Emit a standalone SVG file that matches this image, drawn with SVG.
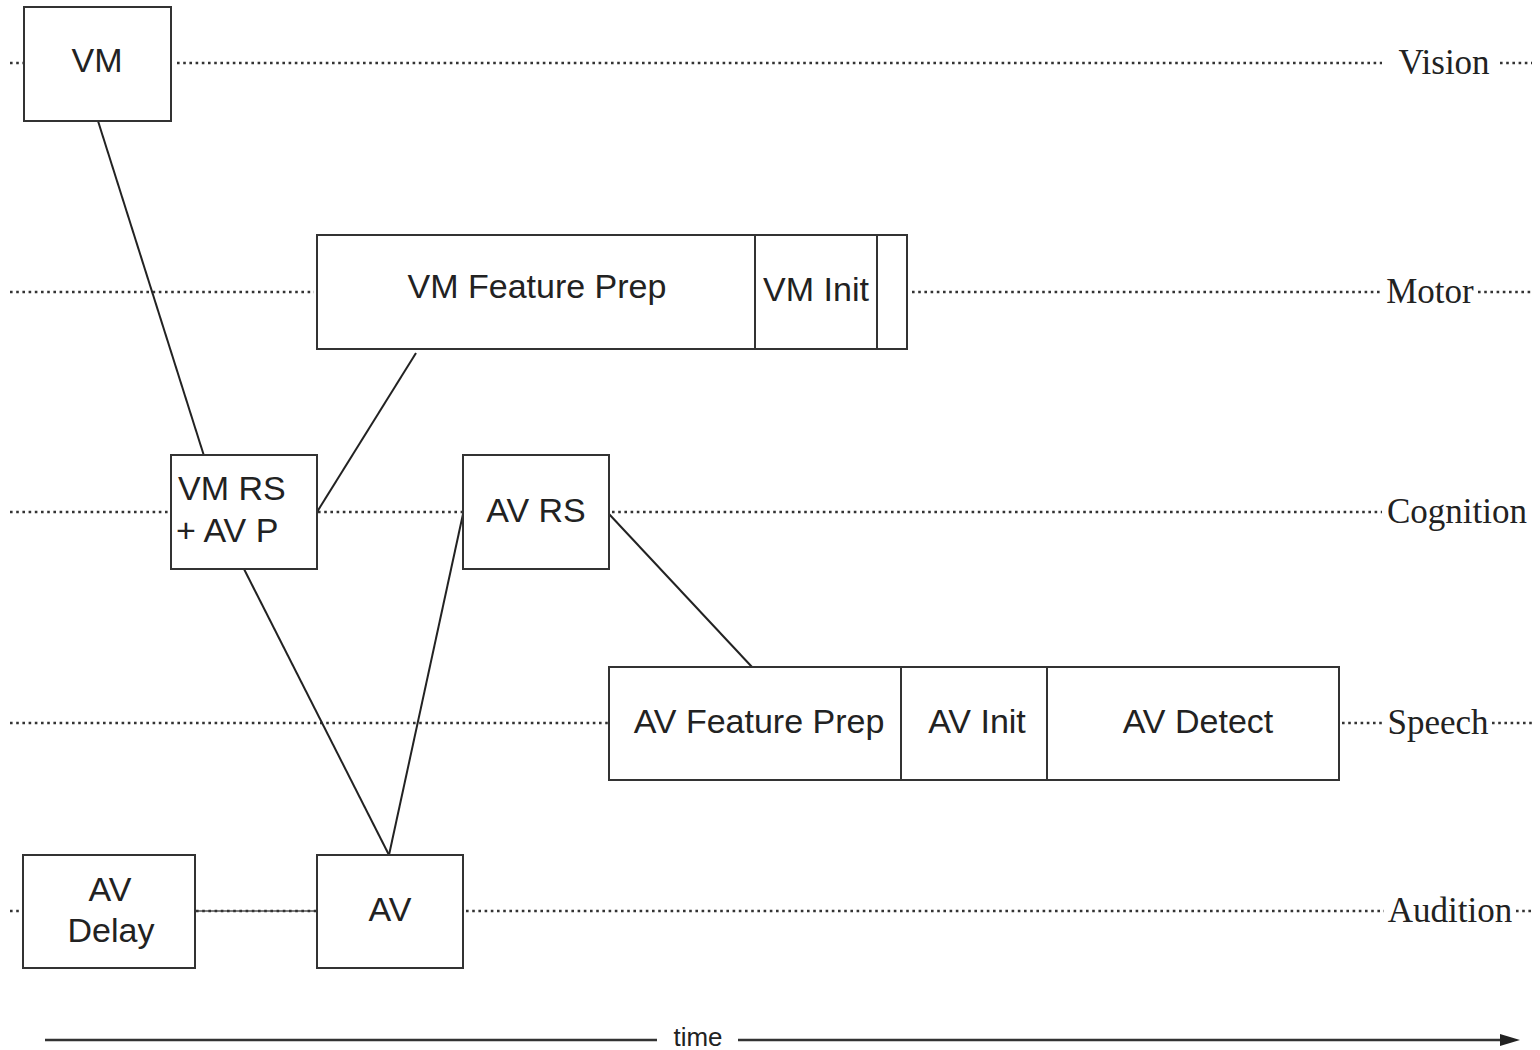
<svg xmlns="http://www.w3.org/2000/svg" width="1540" height="1050" viewBox="0 0 1540 1050">
<style>
.box{fill:#fff;stroke:#333;stroke-width:2}
.dot{stroke:#333;stroke-width:2.6;stroke-dasharray:2.6 3.6;fill:none}
.con{stroke:#222;stroke-width:2;fill:none}
.t{font-family:"Liberation Sans",Arial,sans-serif;font-size:34px;fill:#222;text-anchor:middle}
.tl{font-family:"Liberation Sans",Arial,sans-serif;font-size:34px;fill:#222}
.lane{font-family:"Liberation Serif","Times New Roman",serif;font-size:35px;fill:#222;text-anchor:middle}
</style>
<defs>
<marker id="arr" markerWidth="20" markerHeight="14" refX="6" refY="7" orient="auto" markerUnits="userSpaceOnUse">
<path d="M0,1 L20,7 L0,13 Z" fill="#222"/>
</marker>
</defs>
<rect width="1540" height="1050" fill="#fff"/>
<g id="lanes">
<line class="dot" x1="10" y1="63" x2="24" y2="63"/>
<line class="dot" x1="177" y1="63" x2="1382" y2="63"/>
<text class="lane" x="1444" y="74">Vision</text>
<line class="dot" x1="1500" y1="63" x2="1532" y2="63"/>
<line class="dot" x1="10" y1="292" x2="314" y2="292"/>
<line class="dot" x1="912" y1="292" x2="1382" y2="292"/>
<text class="lane" x="1430" y="303">Motor</text>
<line class="dot" x1="1478" y1="292" x2="1532" y2="292"/>
<line class="dot" x1="10" y1="512" x2="170" y2="512"/>
<line class="dot" x1="318" y1="512" x2="462" y2="512"/>
<line class="dot" x1="612" y1="512" x2="1382" y2="512"/>
<text class="lane" x="1457" y="523">Cognition</text>
<line class="dot" x1="10" y1="723" x2="608" y2="723"/>
<line class="dot" x1="1342" y1="723" x2="1384" y2="723"/>
<text class="lane" x="1438" y="734">Speech</text>
<line class="dot" x1="1492" y1="723" x2="1532" y2="723"/>
<line class="dot" x1="10" y1="911" x2="22" y2="911"/>
<line class="dot" x1="466" y1="911" x2="1384" y2="911"/>
<text class="lane" x="1450" y="922">Audition</text>
<line class="dot" x1="1516" y1="911" x2="1532" y2="911"/>
</g>
<g id="connectors">
<line x1="196" y1="911" x2="317" y2="911" stroke="#555" stroke-width="1.5"/>
<line class="dot" x1="196" y1="911" x2="317" y2="911"/>
<line class="con" x1="98" y1="121" x2="205" y2="459"/>
<line class="con" x1="317" y1="512" x2="416" y2="353"/>
<line class="con" x1="244" y1="569" x2="389" y2="855"/>
<line class="con" x1="389" y1="855" x2="463" y2="514"/>
<line class="con" x1="609" y1="514" x2="752" y2="667"/>
</g>
<g id="VM">
<rect class="box" x="24" y="7" width="147" height="114"/>
<text class="t" x="97" y="72">VM</text>
</g>
<g id="VMPrep">
<rect class="box" x="317" y="235" width="590" height="114"/>
<line x1="755" y1="235" x2="755" y2="349" stroke="#333" stroke-width="2"/>
<line x1="877" y1="235" x2="877" y2="349" stroke="#333" stroke-width="2"/>
<text class="t" x="537" y="298">VM Feature Prep</text>
<text class="t" x="816" y="301">VM Init</text>
</g>
<g id="VMRS">
<rect class="box" x="171" y="455" width="146" height="114"/>
<text class="tl" x="178" y="500">VM RS</text>
<text class="tl" x="176" y="542">+ AV P</text>
</g>
<g id="AVRS">
<rect class="box" x="463" y="455" width="146" height="114"/>
<text class="t" x="536" y="522">AV RS</text>
</g>
<g id="AVPrep">
<rect class="box" x="609" y="667" width="730" height="113"/>
<line x1="901" y1="667" x2="901" y2="780" stroke="#333" stroke-width="2"/>
<line x1="1047" y1="667" x2="1047" y2="780" stroke="#333" stroke-width="2"/>
<text class="t" x="759" y="733">AV Feature Prep</text>
<text class="t" x="977" y="733">AV Init</text>
<text class="t" x="1198" y="733">AV Detect</text>
</g>
<g id="AVDelay">
<rect class="box" x="23" y="855" width="172" height="113"/>
<text class="t" x="110" y="901">AV</text>
<text class="t" x="111" y="942">Delay</text>
</g>
<g id="AV">
<rect class="box" x="317" y="855" width="146" height="113"/>
<text class="t" x="390" y="921">AV</text>
</g>
<g id="time">
<line x1="45" y1="1040" x2="657" y2="1040" stroke="#333" stroke-width="2.5"/>
<text x="698" y="1046" font-family="'Liberation Sans',Arial,sans-serif" font-size="26" fill="#222" text-anchor="middle" textLength="49" lengthAdjust="spacingAndGlyphs">time</text>
<line x1="738" y1="1040" x2="1506" y2="1040" stroke="#333" stroke-width="2.5" marker-end="url(#arr)"/>
</g>
</svg>
